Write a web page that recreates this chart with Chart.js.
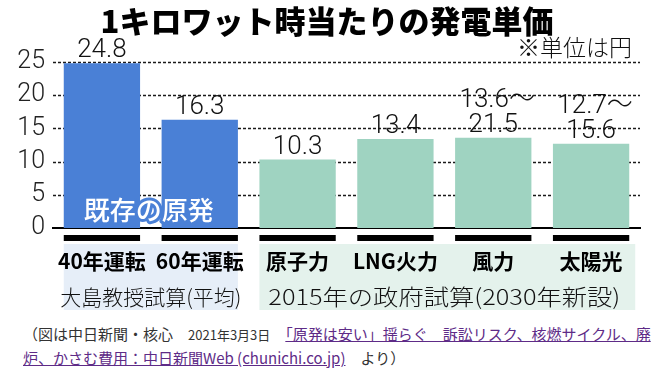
<!DOCTYPE html>
<html lang="ja">
<head>
    <meta charset="UTF-8">
    <title>1キロワット時当たりの発電単価</title>
    <script src="https://cdn.jsdelivr.net/npm/chart.js"></script>
    <style>
        body {
            margin: 0;
            background: #fff;
            font-family: 'Noto Sans CJK JP', sans-serif;
        }
        .wrap {
            position: relative;
            width: 661px;
            height: 318px;
        }
        #src {
            position: absolute;
            left: 23px;
            top: 322px;
            width: 640px;
            font-size: 15px;
            line-height: 23px;
            color: #333;
            white-space: nowrap;
        }
        #src a {
            color: #5e2b87;
            text-decoration: underline;
        }
        #src .sm {
            font-size: 13px;
        }
    </style>
</head>
<body>
    <div class="wrap">
        <canvas id="costChart"></canvas>
    </div>
    <div id="src">（図は中日新聞・核心　<span class="sm">2021年3月3日</span>　<a>「原発は安い」揺らぐ　訴訟リスク、核燃サイクル、廃</a><br><a>炉、かさむ費用：中日新聞Web (chunichi.co.jp)</a>　より）</div>

    <script>
        // data (yen per kWh)
        const categories = ['40年運転', '60年運転', '原子力', 'LNG火力', '風力', '太陽光'];
        const costValues = [24.8, 16.3, 10.3, 13.4, 13.6, 12.7];
        const valueLabels = [['24.8'], ['16.3'], ['10.3'], ['13.4'], ['13.6～', '21.5'], ['12.7～', '15.6']];
        const groupOf = [0, 0, 1, 1, 1, 1];
        const groupLabels = ['大島教授試算(平均)', '2015年の政府試算(2030年新設)'];
        const yTicks = [0, 5, 10, 15, 20, 25];

        const barColors = ['#4a80d6', '#9fd3c1'];
        const boxColors = ['#e6eef8', '#e4f2ec'];
        const groupFontSize = [21, 22];
        const groupStretch = [1, 1.15];
        const numFont = 'Roboto, "Noto Sans CJK JP", sans-serif';
        const jpFont = '"Noto Sans CJK JP", sans-serif';

        function groupIndexes(g) {
            return groupOf.map((v, i) => v === g ? i : -1).filter(i => i >= 0);
        }

        const decor = {
            id: 'decor',
            beforeDraw(chart) {
                // shaded boxes behind the group labels
                const ctx = chart.ctx;
                const bars = chart.getDatasetMeta(0).data;
                const area = chart.chartArea;
                ctx.save();
                groupLabels.forEach((lab, g) => {
                    const idx = groupIndexes(g);
                    const first = bars[idx[0]], last = bars[idx[idx.length - 1]];
                    const x0 = first.x - first.width / 2;
                    const x1 = last.x + last.width / 2 + (g === 1 ? 6 : 0);
                    ctx.fillStyle = boxColors[g];
                    ctx.fillRect(x0, area.bottom + 16, x1 - x0, 66);
                });
                ctx.restore();
            },
            beforeDatasetsDraw(chart) {
                // dotted grid lines from the y scale
                const ctx = chart.ctx;
                const area = chart.chartArea;
                const y = chart.scales.y;
                ctx.save();
                ctx.strokeStyle = '#1a1a1a';
                ctx.lineWidth = 1.5;
                ctx.setLineDash([3, 2]);
                yTicks.forEach(v => {
                    if (v === 0) return;
                    const py = Math.round(y.getPixelForValue(v)) + 0.5;
                    ctx.beginPath();
                    ctx.moveTo(area.left, py);
                    ctx.lineTo(area.right, py);
                    ctx.stroke();
                });
                ctx.restore();
            },
            afterDatasetsDraw(chart) {
                const ctx = chart.ctx;
                const bars = chart.getDatasetMeta(0).data;
                const area = chart.chartArea;
                ctx.save();
                // value labels above bars
                ctx.fillStyle = '#111';
                ctx.font = '300 26px ' + numFont;
                ctx.textAlign = 'center';
                ctx.textBaseline = 'alphabetic';
                bars.forEach((bar, i) => {
                    const lines = valueLabels[i];
                    lines.forEach((t, k) => {
                        const y = bar.y - 6 - (lines.length - 1 - k) * 25;
                        ctx.fillText(t, bar.x + (t.endsWith('～') ? 4 : 0), y);
                    });
                });
                // black bars under each category
                ctx.fillStyle = '#000';
                bars.forEach(bar => {
                    ctx.fillRect(bar.x - bar.width / 2, area.bottom + 7, bar.width, 6);
                });
                // white text on the first group, outlined in bar colour
                const b0 = bars[0], b1 = bars[1];
                const tx = (b0.x + b1.x) / 2 - 2, ty = area.bottom - 18;
                ctx.font = '500 26px ' + jpFont;
                ctx.textBaseline = 'middle';
                ctx.strokeStyle = barColors[0];
                ctx.lineWidth = 6;
                ctx.lineJoin = 'round';
                ctx.strokeText('既存の原発', tx, ty);
                ctx.fillStyle = '#fff';
                ctx.fillText('既存の原発', tx, ty);
                // group labels
                ctx.fillStyle = '#111';
                groupLabels.forEach((lab, g) => {
                    const idx = groupIndexes(g);
                    const cx = (bars[idx[0]].x + bars[idx[idx.length - 1]].x) / 2;
                    ctx.save();
                    ctx.font = '300 ' + groupFontSize[g] + 'px ' + jpFont;
                    ctx.translate(cx, area.bottom + 69);
                    ctx.scale(groupStretch[g], 1);
                    ctx.fillText(lab, 0, 0);
                    ctx.restore();
                });
                ctx.restore();
            },
            afterDraw(chart) {
                const ctx = chart.ctx;
                ctx.save();
                ctx.fillStyle = '#000';
                ctx.textBaseline = 'middle';
                ctx.textAlign = 'center';
                ctx.font = '900 31px ' + jpFont;
                ctx.fillText('1キロワット時当たりの発電単価', 327, 21);
                ctx.textAlign = 'right';
                ctx.font = '300 23px ' + jpFont;
                ctx.fillStyle = '#111';
                ctx.fillText('※単位は円', 632, 47);
                ctx.restore();
            }
        };

        new Chart(document.getElementById('costChart'), {
            type: 'bar',
            data: {
                labels: categories,
                datasets: [{
                    data: costValues,
                    backgroundColor: ctx => barColors[groupOf[ctx.dataIndex]],
                    borderWidth: 0,
                    categoryPercentage: 1,
                    barPercentage: 0.78
                }]
            },
            options: {
                responsive: true,
                maintainAspectRatio: false,
                animation: false,
                layout: { padding: { top: 62, right: 21, left: 0, bottom: 0 } },
                plugins: {
                    legend: { display: false },
                    tooltip: { enabled: false }
                },
                scales: {
                    x: {
                        grid: { display: false, drawTicks: false },
                        border: { display: true, color: '#000', width: 2 },
                        ticks: {
                            color: '#000',
                            font: { family: jpFont, size: 21, weight: 'bold' },
                            padding: 20,
                            maxRotation: 0,
                            autoSkip: false
                        },
                        afterFit: s => { s.height = 90; }
                    },
                    y: {
                        min: 0,
                        max: 25,
                        afterBuildTicks: s => { s.ticks = yTicks.map(v => ({ value: v })); },
                        grid: { display: false, drawTicks: false },
                        border: { display: false },
                        ticks: {
                            color: '#222',
                            font: { family: numFont, size: 25, weight: '300' },
                            padding: 8
                        },
                        afterFit: s => { s.width = 53; }
                    }
                }
            },
            plugins: [decor]
        });
    </script>
</body>
</html>
